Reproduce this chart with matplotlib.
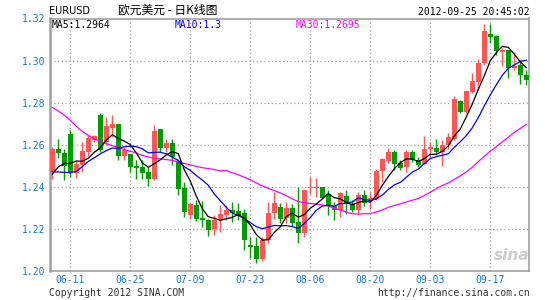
import matplotlib
matplotlib.use('Agg')
import matplotlib.pyplot as plt
import numpy as np
import pandas as pd

# ---- data (EURUSD daily) ----
opens = [1.2470, 1.2578, 1.2562, 1.2652, 1.2465, 1.2503, 1.2567, 1.2624, 1.2740, 1.2610,
         1.2681, 1.2700, 1.2544, 1.2554, 1.2500, 1.2492, 1.2468, 1.2437, 1.2673, 1.2586,
         1.2606, 1.2524, 1.2392, 1.2263, 1.2311, 1.2251, 1.2243, 1.2200, 1.2243, 1.2267,
         1.2287, 1.2283, 1.2275, 1.2121, 1.2116, 1.2054, 1.2144, 1.2275, 1.2303, 1.2252,
         1.2300, 1.2232, 1.2179, 1.2395, 1.2395, 1.2398, 1.2363, 1.2306, 1.2287, 1.2354,
         1.2319, 1.2287, 1.2359, 1.2332, 1.2342, 1.2474, 1.2523, 1.2565, 1.2511, 1.2494,
         1.2565, 1.2529, 1.2510, 1.2581, 1.2586, 1.2565, 1.2597, 1.2629, 1.2808, 1.2756,
         1.2851, 1.2898, 1.2986, 1.3125, 1.3117, 1.3041, 1.3049, 1.2965, 1.2981, 1.2933]
highs = [1.2590, 1.2625, 1.2581, 1.2668, 1.2529, 1.2610, 1.2644, 1.2644, 1.2748, 1.2732,
         1.2743, 1.2700, 1.2589, 1.2557, 1.2529, 1.2529, 1.2494, 1.2692, 1.2673, 1.2625,
         1.2625, 1.2530, 1.2420, 1.2324, 1.2335, 1.2330, 1.2245, 1.2267, 1.2311, 1.2311,
         1.2327, 1.2324, 1.2295, 1.2160, 1.2160, 1.2160, 1.2327, 1.2375, 1.2322, 1.2327,
         1.2315, 1.2398, 1.2383, 1.2446, 1.2441, 1.2400, 1.2383, 1.2327, 1.2375, 1.2386,
         1.2338, 1.2375, 1.2386, 1.2375, 1.2486, 1.2538, 1.2586, 1.2573, 1.2529, 1.2576,
         1.2576, 1.2541, 1.2640, 1.2613, 1.2629, 1.2624, 1.2656, 1.2830, 1.2811, 1.2859,
         1.2941, 1.3006, 1.3173, 1.3173, 1.3121, 1.3060, 1.3052, 1.3041, 1.3002, 1.2954]
lows = [1.2435, 1.2537, 1.2430, 1.2446, 1.2443, 1.2470, 1.2544, 1.2613, 1.2565, 1.2597,
        1.2637, 1.2529, 1.2529, 1.2470, 1.2438, 1.2438, 1.2403, 1.2433, 1.2565, 1.2565,
        1.2505, 1.2359, 1.2256, 1.2248, 1.2235, 1.2210, 1.2165, 1.2168, 1.2184, 1.2243,
        1.2232, 1.2243, 1.2100, 1.2062, 1.2037, 1.2048, 1.2132, 1.2248, 1.2225, 1.2225,
        1.2215, 1.2132, 1.2160, 1.2367, 1.2351, 1.2340, 1.2263, 1.2240, 1.2256, 1.2271,
        1.2279, 1.2271, 1.2306, 1.2295, 1.2335, 1.2422, 1.2513, 1.2481, 1.2481, 1.2470,
        1.2517, 1.2494, 1.2506, 1.2533, 1.2549, 1.2497, 1.2581, 1.2624, 1.2752, 1.2752,
        1.2846, 1.2858, 1.2978, 1.3084, 1.3025, 1.2975, 1.2917, 1.2954, 1.2887, 1.2883]
closes = [1.2578, 1.2559, 1.2498, 1.2468, 1.2506, 1.2570, 1.2633, 1.2640, 1.2575, 1.2687,
          1.2700, 1.2544, 1.2576, 1.2494, 1.2487, 1.2465, 1.2437, 1.2663, 1.2586, 1.2606,
          1.2540, 1.2390, 1.2279, 1.2318, 1.2248, 1.2243, 1.2195, 1.2243, 1.2268, 1.2287,
          1.2275, 1.2267, 1.2148, 1.2113, 1.2057, 1.2144, 1.2275, 1.2322, 1.2248, 1.2298,
          1.2227, 1.2179, 1.2383, 1.2398, 1.2400, 1.2346, 1.2306, 1.2287, 1.2370, 1.2319,
          1.2287, 1.2359, 1.2322, 1.2345, 1.2474, 1.2532, 1.2565, 1.2510, 1.2489, 1.2563,
          1.2529, 1.2505, 1.2581, 1.2589, 1.2565, 1.2597, 1.2637, 1.2816, 1.2756, 1.2854,
          1.2902, 1.2986, 1.3140, 1.3113, 1.3044, 1.3052, 1.2965, 1.2975, 1.2933, 1.2906]

# moving-average values before enough history exists in the window
ma5_lead = [1.2459, 1.2494, 1.2510, 1.2510]
ma10_lead = [1.2470, 1.2470, 1.2468, 1.2467, 1.2472, 1.2495, 1.2520, 1.2537, 1.2556]
ma30_lead = [1.2776, 1.2760, 1.2740, 1.2716, 1.2687, 1.2663, 1.2644, 1.2627, 1.2616, 1.2605,
             1.2595, 1.2586, 1.2576, 1.2568, 1.2560, 1.2549, 1.2541, 1.2535, 1.2532, 1.2529,
             1.2525, 1.2517, 1.2510, 1.2503, 1.2497, 1.2490, 1.2486, 1.2481, 1.2475]

dates = pd.bdate_range('2012-06-06', '2012-09-25')
tick_labels = ['06-11', '06-25', '07-09', '07-23', '08-06', '08-20', '09-03', '09-17']
y_ticks = [1.20, 1.22, 1.24, 1.26, 1.28, 1.30, 1.32]

# ---- figure ----
W, H = 545, 300
fig = plt.figure(figsize=(W / 100, H / 100), dpi=100)
fig.patch.set_facecolor('white')
ax = fig.add_axes([50 / W, 1 - 270.7 / H, 479 / W, 252.2 / H])

n = len(closes)
x = np.arange(n)
o = np.array(opens); c = np.array(closes); h = np.array(highs); l = np.array(lows)
RED, GREEN = '#ff5555', '#009c00'
cols = [RED if cc >= oo else GREEN for oo, cc in zip(o, c)]

# grid
ax.set_yticks(y_ticks)
date_str = [d.strftime('%m-%d') for d in dates]
tick_idx = [date_str.index(t) for t in tick_labels]
ax.set_xticks(tick_idx)
ax.set_xticklabels(tick_labels)
ax.grid(True, linestyle=(0, (1, 2)), color='#a0a0a0', linewidth=0.9, zorder=0)

# candles
ax.vlines(x, l, h, colors=cols, linewidth=1.0, zorder=2)
body_h = np.maximum(np.abs(c - o), 0.0005)
ax.bar(x, body_h, bottom=np.minimum(o, c), width=0.82, color=cols, linewidth=0, zorder=3)

# moving averages
s = pd.Series(closes)
ma5 = s.rolling(5).mean().to_numpy(); ma5[:len(ma5_lead)] = ma5_lead
ma10 = s.rolling(10).mean().to_numpy(); ma10[:len(ma10_lead)] = ma10_lead
ma30 = s.rolling(30).mean().to_numpy(); ma30[:len(ma30_lead)] = ma30_lead
ax.plot(x, ma30, color='#ff00ff', linewidth=0.9, zorder=4)
ax.plot(x, ma10, color='#0000ff', linewidth=0.9, zorder=4)
ax.plot(x, ma5, color='#000000', linewidth=0.9, zorder=4)

ax.set_xlim((50 - 52.3) / 6, (529 - 52.3) / 6)
ax.set_ylim(1.20, 1.32)

mono = 'DejaVu Sans Mono'
BLUE = '#1a78c8'
ax.set_yticklabels([f'{v:.2f}' for v in y_ticks], fontfamily=mono, fontsize=7, color=BLUE)
for lab in ax.get_xticklabels():
    lab.set_fontfamily(mono); lab.set_fontsize(7); lab.set_color(BLUE)
ax.tick_params(axis='both', length=0, pad=3)
for sp in ax.spines.values():
    sp.set_color('#a0a0a0'); sp.set_linewidth(1.2)
ax.spines['left'].set_linewidth(1.8)

# legend texts inside plot
ax.text(52, 24, f'MA5:{1.2964}', transform=None, fontsize=7, fontfamily=mono, color='black', va='center')
def px(xp, yp):
    return xp / W, 1 - yp / H
fig.text(*px(52, 25), 'MA5:1.2964', fontsize=7, fontfamily=mono, color='black', va='center')
fig.text(*px(175, 25), 'MA10:1.3', fontsize=7, fontfamily=mono, color='#0000ff', va='center')
fig.text(*px(296, 25), 'MA30:1.2695', fontsize=7, fontfamily=mono, color='#ff00ff', va='center')
ax.texts[0].remove()

# header
fig.text(*px(49, 11), 'EURUSD', fontsize=7, fontfamily='DejaVu Sans', color='black', va='center')
fig.text(*px(118, 10), '欧元美元 - 日K线图', fontsize=8.5,
         fontfamily=['Noto Sans CJK SC', 'DejaVu Sans'], color='black', va='center')
fig.text(*px(530, 12), '2012-09-25 20:45:02', fontsize=7, fontfamily=mono, color='black',
         va='center', ha='right')

# footer
fig.text(*px(49, 293), 'Copyright 2012 SINA.COM', fontsize=7, fontfamily=mono, color='#333333', va='center')
fig.text(*px(530, 293), 'http://finance.sina.com.cn', fontsize=7, fontfamily=mono, color='#333333',
         va='center', ha='right')

# watermark
fig.text(*px(512, 256), 'sina', fontsize=11, fontstyle='italic', fontweight='bold',
         color='#cccccc', va='center', ha='center', zorder=1)

fig.savefig('out.png', dpi=100, facecolor='white')
